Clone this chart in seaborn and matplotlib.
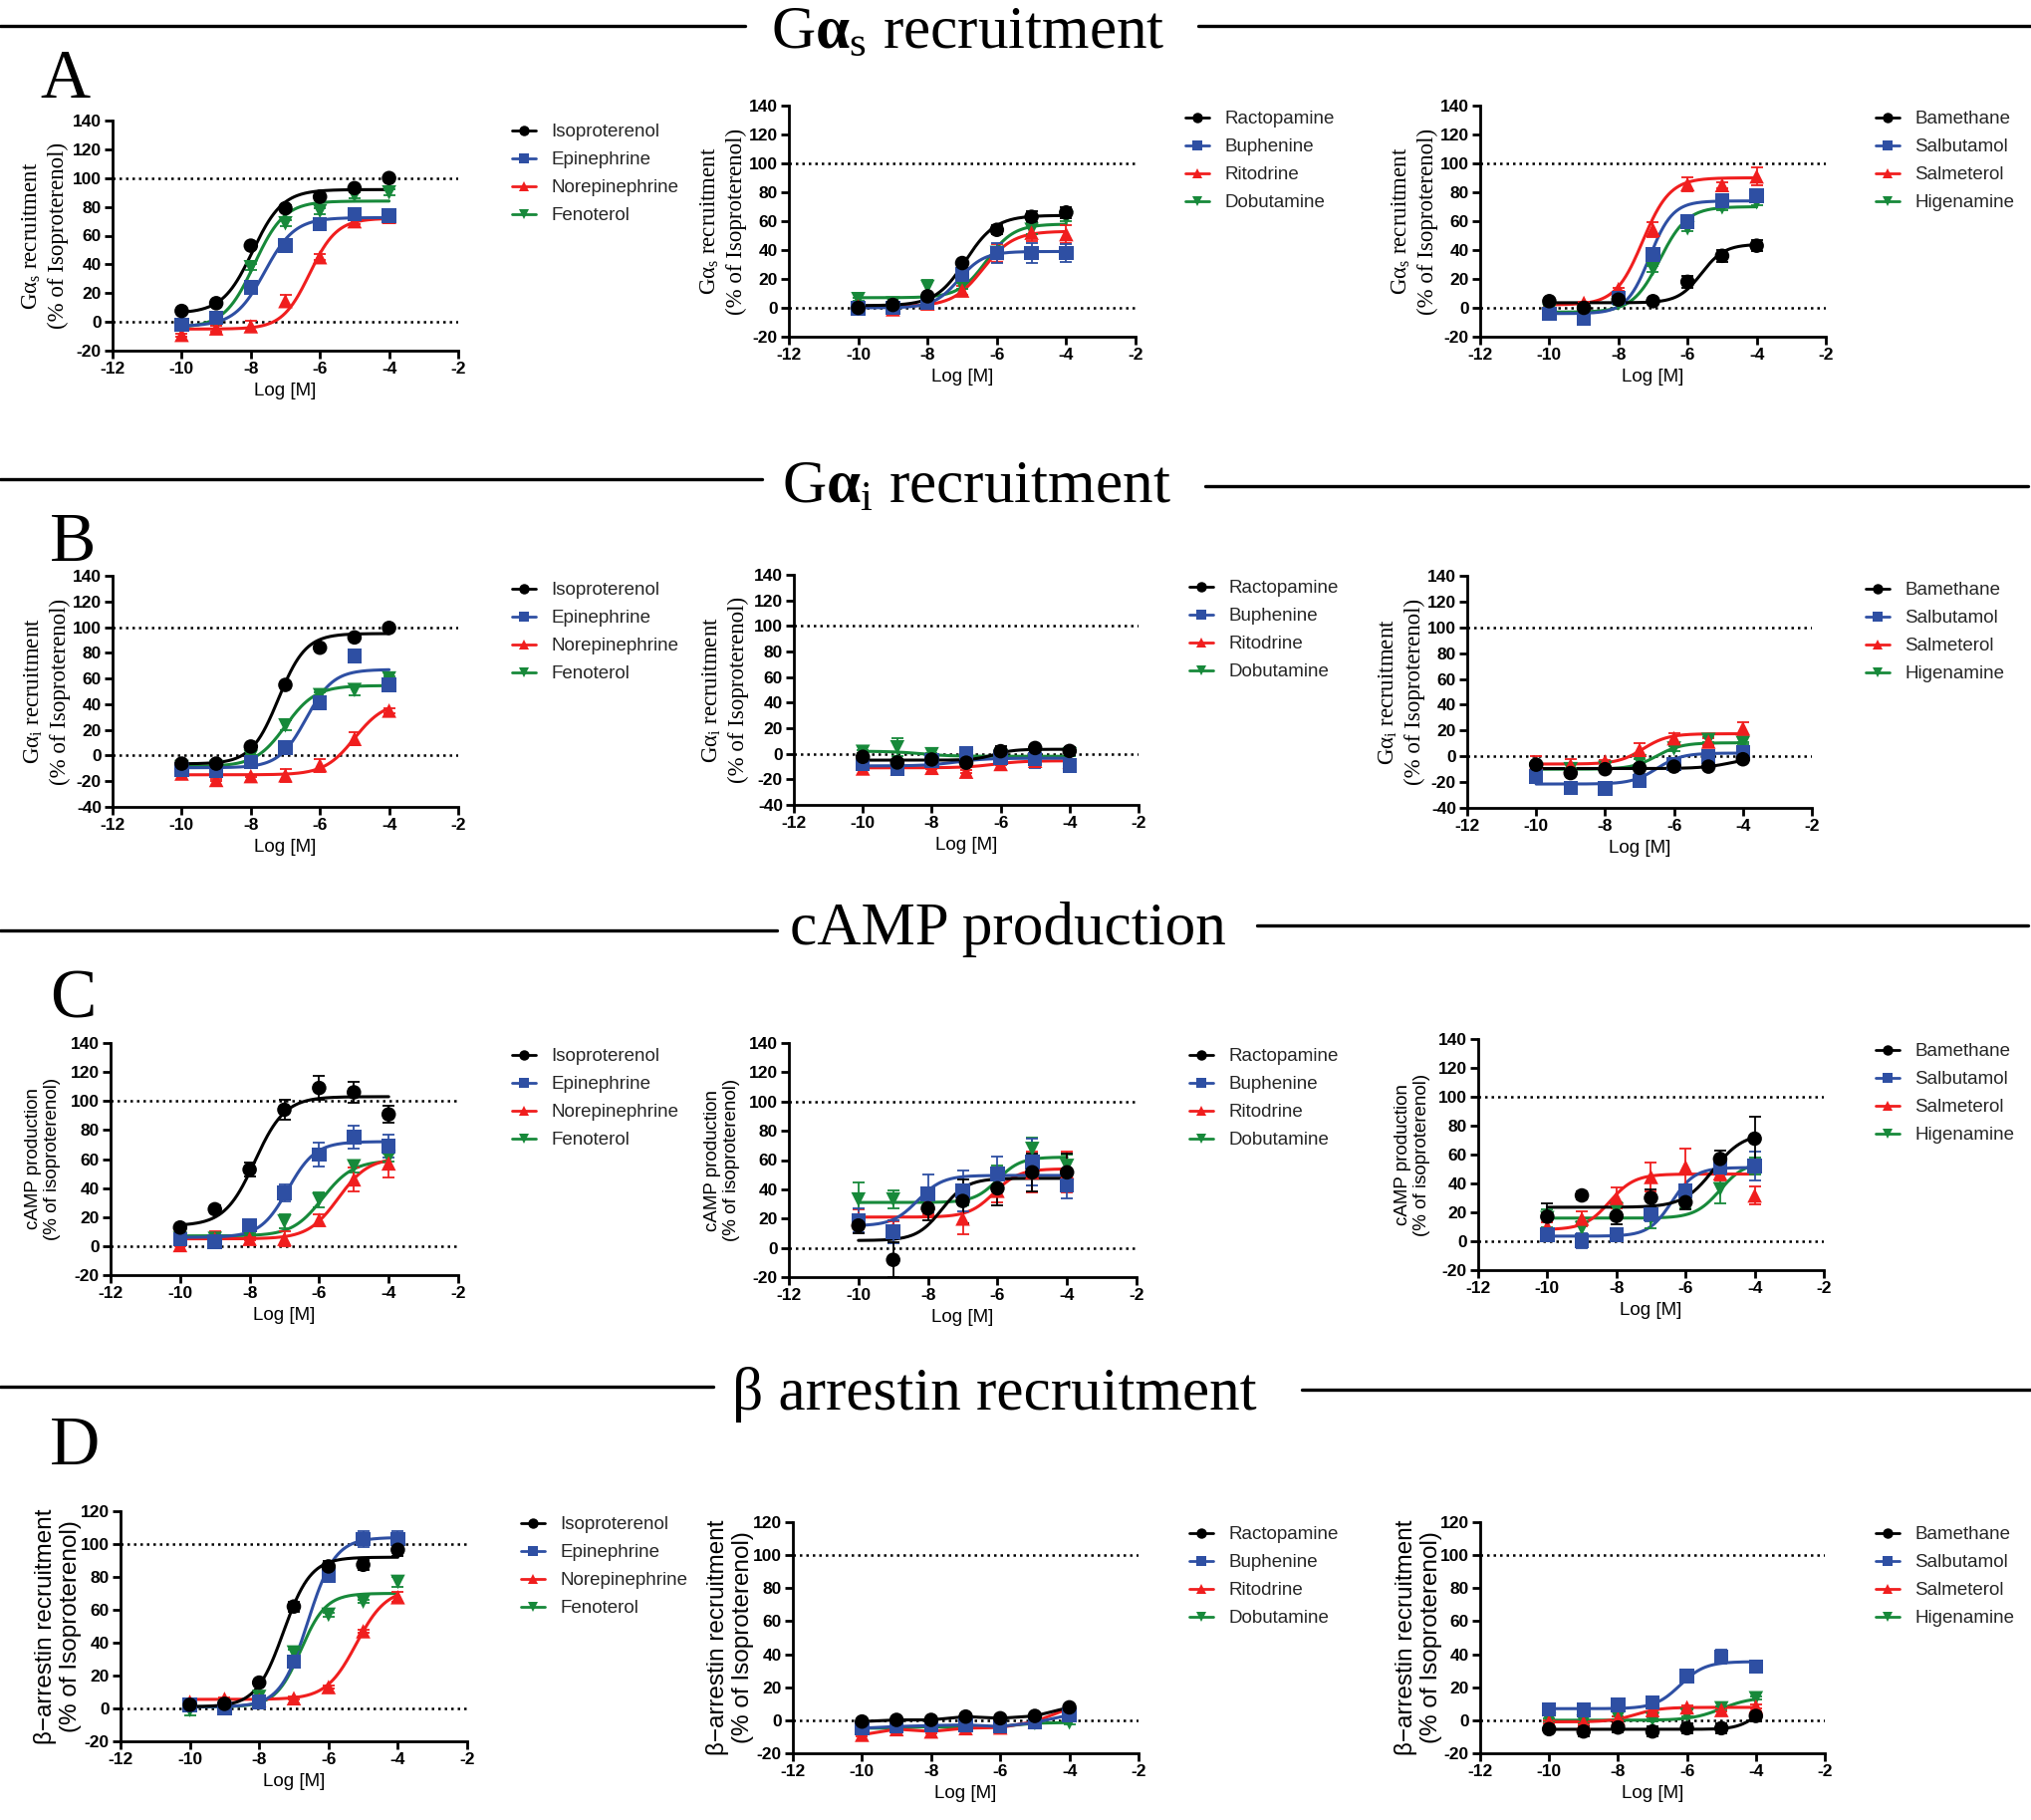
import numpy as np
import pandas as pd
import matplotlib
matplotlib.use("Agg")
import matplotlib.pyplot as plt
import seaborn as sns
from matplotlib.lines import Line2D

sns.set_theme(style="ticks")
plt.rcParams["font.family"] = ["Liberation Sans", "DejaVu Sans"]
plt.rcParams["mathtext.fontset"] = "custom"
plt.rcParams["mathtext.rm"] = "Liberation Serif"
plt.rcParams["mathtext.it"] = "Liberation Serif:italic"
plt.rcParams["mathtext.bf"] = "Liberation Serif:bold"
plt.rcParams["axes.unicode_minus"] = False

# ---------------- data ----------------
LOG_M = [-10, -9, -8, -7, -6, -5, -4]
DRUGS_1 = ["Isoproterenol", "Epinephrine", "Norepinephrine", "Fenoterol"]
DRUGS_2 = ["Ractopamine", "Buphenine", "Ritodrine", "Dobutamine"]
DRUGS_3 = ["Bamethane", "Salbutamol", "Salmeterol", "Higenamine"]
COLORS = ["#000000", "#2e4fa3", "#f01e1e", "#17893a"]
MARKERS = ["o", "s", "^", "v"]

# Row A: G alpha s recruitment
A1_VALS = [[7.6, 13, 53, 79, 87, 93, 100],
           [-2, 3, 24, 53, 68, 75, 74],
           [-9, -4.5, -3, 14.5, 45, 70, 73],
           [-3, -1, 38, 68.5, 77, 88, 90]]
A1_ERRS = [[1, 1, 2, 2, 2, 1, 1], [1, 1, 2, 2, 2, 2, 1],
           [1, 2, 4, 4, 2, 2, 2], [1, 1, 2, 2, 2, 2, 2]]
A1_FITS = [(6, 92, -7.95, 1.0), (-3, 72.5, -7.6, 1.0), (-5, 72, -6.3, 1.1), (-4, 84, -7.9, 1.0)]

A2_VALS = [[0, 2, 8, 31, 54, 63, 66],
           [-0.5, 0, 3.5, 23, 38, 38, 38],
           [1, -1, 3, 12, 38, 52, 51],
           [6, 3, 14.5, 15, 38, 54, 62]]
A2_ERRS = [[1, 1, 1, 2, 3, 4, 4], [1, 1, 1, 4, 7, 7, 6],
           [1, 3, 1, 3, 6, 6, 6], [1, 1, 5, 2, 3, 3, 2]]
A2_FITS = [(1.5, 64, -6.9, 1.0), (0, 39, -7.1, 1.2), (1, 53, -6.4, 1.0), (7, 58, -6.3, 1.1)]

A3_VALS = [[4.6, 0, 5.7, 4.6, 18, 36, 43],
           [-4, -7.6, 7, 37, 59.5, 74, 77.5],
           [0, 3.4, 13, 54, 85.5, 85, 91],
           [-2, -3, 3, 27, 55, 69.5, 73]]
A3_ERRS = [[1, 1, 1, 1, 4, 4, 4], [1, 2, 1, 4, 2, 2, 2],
           [1, 1, 1, 5, 5, 2, 6], [1, 1, 1, 2, 2, 2, 2]]
A3_FITS = [(3.5, 44, -5.6, 1.3), (-4, 74, -7.1, 1.3), (2, 90, -7.3, 1.1), (-3, 70, -6.8, 1.1)]

# Row B: G alpha i recruitment
B1_VALS = [[-6.3, -6.3, 7, 55, 84, 92, 99.4],
           [-11, -12, -5, 6, 41, 77.6, 55],
           [-14, -19, -16, -15.4, -7.6, 13, 35],
           [-9, -9, -1, 23.4, 47, 51, 60]]
B1_ERRS = [[1, 1, 1, 2, 2, 2, 1], [1, 1, 1, 1, 2, 2, 2],
           [2, 1, 1, 5, 5, 5, 2], [1, 1, 1, 4, 2, 4, 2]]
B1_FITS = [(-6.5, 95, -7.2, 1.1), (-9.5, 67, -6.4, 1.1), (-15, 42, -5.0, 1.0), (-8.5, 54.5, -7.0, 1.0)]

B2_VALS = [[-2.4, -6.8, -4.5, -7, 2, 4.5, 2.2],
           [-7.6, -11.5, -5.5, 0, -3, -4, -9],
           [-11.5, -11.5, -11, -14, -8, -5.5, -6.3],
           [1.5, 5, -0.4, -2, -2, -2, -0.5]]
B2_ERRS = [[1, 1, 1, 1, 4, 1, 3], [1, 2, 1, 5, 2, 7, 3],
           [1, 1, 1, 1, 1, 1, 7], [1, 7, 1, 7, 1, 1, 1]]
B2_FITS = [(-5, 3.5, -6.2, 1.5), (-9.5, -3.5, -7.3, 1.0), (-11, -5.5, -6.2, 1.0), (2, -2, -8.3, 1.0)]

B3_VALS = [[-6.5, -13, -10, -9, -8, -8, -2.3],
           [-15.5, -24.5, -24.8, -19, -6, 0, 3],
           [-5, -7, -4, 5, 14, 11.4, 21.7],
           [-10, -10, -9, -4, 6, 12.7, 10.3]]
B3_ERRS = [[1, 1, 1, 1, 1, 1, 1], [1, 1, 2, 5, 2, 1, 2],
           [5, 5, 1, 5, 4, 3, 5], [1, 1, 1, 2, 2, 2, 1]]
B3_FITS = [(-9.5, 0, -4.3, 1.0), (-21.5, 2.5, -6.5, 1.2), (-6, 17.5, -6.9, 1.2), (-10, 10.5, -6.5, 1.2)]

# Row C: cAMP production
C1_VALS = [[12.8, 25.4, 52.7, 94, 109, 106, 90.8],
           [4.6, 3, 14.4, 36.7, 63, 75, 69],
           [0.7, 5, 5, 5, 18, 46, 57],
           [5, 5, 8, 17, 32, 55, 61]]
C1_ERRS = [[1, 3, 5, 7, 8, 7, 6], [1, 1, 3, 6, 8, 8, 8],
           [1, 5, 1, 5, 4, 8, 10], [1, 1, 1, 5, 5, 4, 3]]
C1_FITS = [(14, 103, -7.85, 1.0), (6, 72, -6.9, 1.1), (5, 61, -5.45, 1.0), (7, 59, -5.9, 1.0)]

C2_VALS = [[15.2, -8.2, 27, 32, 40.7, 51.6, 51.6],
           [18.7, 11, 37, 39, 50.5, 58.5, 42.5],
           [20, 13, 31, 20, 39, 51.6, 51.6],
           [33, 33, 36, 35, 48, 67.6, 56]]
C2_ERRS = [[5, 12, 8, 15, 12, 13, 13], [8, 8, 13, 14, 12, 16, 9],
           [6, 5, 8, 11, 8, 14, 14], [12, 6, 5, 6, 8, 8, 8]]
C2_FITS = [(5, 47.5, -7.6, 1.2), (15, 49.5, -8.3, 1.2), (21, 54, -6.1, 1.2), (31, 62, -6.0, 1.3)]

C3_VALS = [[17, 31.7, 17.5, 30, 27, 57, 71],
           [4.4, 0.2, 4.4, 18.6, 35, 51, 52],
           [10, 15.6, 30, 44.5, 51.4, 47, 31.7],
           [16, 9, 22, 16, 26.6, 36, 52]]
C3_ERRS = [[9, 3, 6, 6, 5, 6, 15], [3, 5, 3, 5, 3, 5, 10],
           [3, 5, 7, 10, 13, 5, 6], [6, 5, 5, 7, 4, 10, 6]]
C3_FITS = [(23.5, 75, -5.2, 1.0), (3.5, 51, -6.4, 1.3), (8, 46.5, -8.2, 1.2), (16, 55, -5.0, 1.2)]

# Row D: beta arrestin recruitment
D1_VALS = [[2.2, 2.8, 15.7, 62, 86.4, 87.4, 96.5],
           [2, 0, 4, 28.4, 81, 103, 103],
           [4, 5.8, 5, 6.2, 13, 47, 67.7],
           [-1, 1, 7, 34, 57, 65, 77]]
D1_ERRS = [[1, 1, 1, 3, 3, 3, 4], [2, 1, 1, 3, 3, 5, 5],
           [1, 1, 1, 1, 1, 1, 3], [3, 1, 1, 2, 1, 1, 3]]
D1_FITS = [(1, 92, -7.3, 1.1), (1, 104, -6.6, 1.1), (5.5, 73, -5.2, 1.0), (1, 70, -6.8, 1.2)]

D2_VALS = [[-0.8, 0.2, 0.2, 2.2, 1.2, 2.6, 7.8],
           [-4.8, -3.8, -3.2, -2.8, -3.8, -1.4, 3.2],
           [-8.8, -5.4, -6.8, -4.8, -4.4, -0.8, 7.2],
           [-4.8, -4.8, -3.8, -4.8, -3.8, -1.8, -1.4]]
D2_ERRS = [[1, 1, 1, 1, 1, 1, 1], [1, 1, 1, 1, 1, 1, 1],
           [1, 1, 1, 1, 1, 1, 1], [1, 1, 1, 1, 1, 1, 1]]
D2_FITS = [None, None, None, None]

D3_VALS = [[-5.4, -6.8, -4.4, -6.8, -4.8, -4.8, 2.6],
           [6.6, 6.2, 9.3, 10.7, 26.8, 38.5, 32.4],
           [-0.8, -1.4, 1.2, 6.2, 7.8, 6.2, 8.3],
           [0.2, -1, 1.6, 0.6, 3.2, 7.2, 13.3]]
D3_ERRS = [[1, 3, 3, 3, 3, 3, 3], [1, 1, 1, 1, 1, 4, 1],
           [1, 1, 1, 1, 1, 1, 1], [1, 1, 1, 1, 1, 1, 1]]
D3_FITS = [(-5.5, 10, -4.0, 1.5), (7, 35.5, -6.2, 1.2), (-1, 7.8, -7.5, 1.2), (0, 14, -5.0, 1.0)]

YLAB_A = "G$\\mathrm{\\alpha}_{\\mathrm{s}}$ recruitment\n(% of Isoproterenol)"
YLAB_B = "G$\\mathrm{\\alpha}_{\\mathrm{i}}$ recruitment\n(% of Isoproterenol)"
YLAB_C = "cAMP production\n(% of isoproterenol)"
YLAB_D = "\u03b2\u2212arrestin recruitment\n(% of Isoproterenol)"

# ---------------- layout ----------------
W, H = 2040, 1827
fig = plt.figure(figsize=(W / 100, H / 100), dpi=100)


def rect(x0, y0, x1, y1):
    return [x0 / W, 1 - y1 / H, (x1 - x0) / W, (y1 - y0) / H]


def logistic(x, b, t, e, h):
    return b + (t - b) / (1 + 10 ** ((e - x) * h))


PANELS = [
    # box, names, vals, errs, fits, ylim, ylabel, serif, label_x, legend (x, y), ylabel size
    ((113, 121, 460, 352), DRUGS_1, A1_VALS, A1_ERRS, A1_FITS, (-20, 140), YLAB_A, True, -0.128, (514, 124), 16.5),
    ((792, 106, 1140, 338), DRUGS_2, A2_VALS, A2_ERRS, A2_FITS, (-20, 140), YLAB_A, True, -0.12, (1190, 111), 16.5),
    ((1486, 106, 1833, 338), DRUGS_3, A3_VALS, A3_ERRS, A3_FITS, (-20, 140), YLAB_A, True, -0.122, (1883, 111), 16.5),
    ((113, 578, 460, 810), DRUGS_1, B1_VALS, B1_ERRS, B1_FITS, (-40, 140), YLAB_B, True, -0.122, (514, 584), 16.5),
    ((797, 577, 1143, 808), DRUGS_2, B2_VALS, B2_ERRS, B2_FITS, (-40, 140), YLAB_B, True, -0.13, (1194, 582), 16.5),
    ((1473, 578, 1819, 811), DRUGS_3, B3_VALS, B3_ERRS, B3_FITS, (-40, 140), YLAB_B, True, -0.122, (1873, 584), 16.5),
    ((111, 1047, 460, 1280), DRUGS_1, C1_VALS, C1_ERRS, C1_FITS, (-20, 140), YLAB_C, False, -0.142, (514, 1052), 13.5),
    ((792, 1047, 1141, 1282), DRUGS_2, C2_VALS, C2_ERRS, C2_FITS, (-20, 140), YLAB_C, False, -0.14, (1194, 1052), 13.5),
    ((1484, 1043, 1831, 1275), DRUGS_3, C3_VALS, C3_ERRS, C3_FITS, (-20, 140), YLAB_C, False, -0.137, (1883, 1047), 13.5),
    ((121, 1517, 469, 1748), DRUGS_1, D1_VALS, D1_ERRS, D1_FITS, (-20, 120), YLAB_D, False, -0.112, (523, 1522), 17.5),
    ((796, 1528, 1143, 1760), DRUGS_2, D2_VALS, D2_ERRS, D2_FITS, (-20, 120), YLAB_D, False, -0.112, (1194, 1532), 17.5),
    ((1486, 1528, 1832, 1760), DRUGS_3, D3_VALS, D3_ERRS, D3_FITS, (-20, 120), YLAB_D, False, -0.11, (1883, 1532), 17.5),
]

for box, names, vals, errs, fits, ylim, ylab, serif, labx, leg, ylsize in PANELS:
    ax = fig.add_axes(rect(*box))
    pal = dict(zip(names, COLORS))
    mk = dict(zip(names, MARKERS))
    order = list(reversed(names))

    # reference lines
    ax.axhline(0, color="black", ls=(0, (1, 1.6)), lw=1.8, zorder=1)
    ax.axhline(100, color="black", ls=(0, (1, 1.6)), lw=1.8, zorder=1)

    # curves
    crows = []
    for n, v, f in zip(names, vals, fits):
        if f is None:
            crows += [(n, x, y) for x, y in zip(LOG_M, v)]
        else:
            xs = np.linspace(-10, -4, 161)
            crows += [(n, x, y) for x, y in zip(xs, logistic(xs, *f))]
    curves = pd.DataFrame(crows, columns=["drug", "logM", "resp"])
    sns.lineplot(data=curves, x="logM", y="resp", hue="drug", hue_order=order,
                 palette=pal, lw=2.2, legend=False, ax=ax, estimator=None,
                 sort=False, zorder=2)

    # error bars
    for i in reversed(range(4)):
        ax.errorbar(LOG_M, vals[i], yerr=errs[i], fmt="none", ecolor=COLORS[i],
                    elinewidth=1.3, capsize=4.5, capthick=1.3, zorder=3)

    # points
    prows = []
    for n in order:
        i = names.index(n)
        prows += [(n, x, y) for x, y in zip(LOG_M, vals[i])]
    pts = pd.DataFrame(prows, columns=["drug", "logM", "resp"])
    sns.scatterplot(data=pts, x="logM", y="resp", hue="drug", style="drug",
                    hue_order=order, style_order=order, palette=pal, markers=mk,
                    s=110, linewidth=0, legend=False, ax=ax, zorder=4)

    ax.set_xlim(-12, -2)
    ax.set_ylim(*ylim)
    ax.set_xticks(range(-12, -1, 2))
    ax.set_yticks(range(ylim[0], ylim[1] + 1, 20))
    sns.despine(ax=ax)
    for s in ["left", "bottom"]:
        ax.spines[s].set_linewidth(2.0)
        ax.spines[s].set_color("black")
    ax.tick_params(direction="out", length=6, width=2.0, labelsize=12.5, pad=2,
                   color="black", labelcolor="black")
    for lab in ax.get_xticklabels() + ax.get_yticklabels():
        lab.set_fontweight("bold")
    ax.set_xlabel("Log [M]", fontsize=13.5, labelpad=4, color="black")
    if serif:
        ax.set_ylabel(ylab, fontsize=ylsize, fontfamily="Liberation Serif",
                      linespacing=1.3, color="black")
    else:
        ax.set_ylabel(ylab, fontsize=ylsize, linespacing=1.2, color="black")
    ax.yaxis.set_label_coords(labx, 0.5)
    ax.grid(False)

    handles = [Line2D([0], [0], color=c, marker=m, markersize=7.5, lw=2.0,
                      markeredgewidth=0) for c, m in zip(COLORS, MARKERS)]
    fig.legend(handles, names, loc="upper left",
               bbox_to_anchor=(leg[0] / W, 1 - leg[1] / H),
               frameon=False, borderpad=0, borderaxespad=0, fontsize=13.5,
               handlelength=1.3, handletextpad=0.8, labelspacing=0.58)

# ---------------- section titles, rules, panel letters ----------------
TITLES = [
    ("G$\\mathbf{\\alpha}_{\\mathrm{s}}$ recruitment", 972, 48, (0, 748, 26), (1203, 2040, 26)),
    ("G$\\mathbf{\\alpha}_{\\mathrm{i}}$ recruitment", 980, 505, (0, 765, 481), (1210, 2036, 488)),
    ("cAMP production", 1012, 948, (0, 780, 934), (1262, 2036, 929)),
    ("\u03b2 arrestin recruitment", 998, 1415, (0, 716, 1392), (1307, 2040, 1395)),
]
for text, cx, by, l1, l2 in TITLES:
    fig.text(cx / W, 1 - by / H, text, ha="center", va="baseline", fontsize=44,
             fontfamily="Liberation Serif", color="black")
    for x0, x1, yy in (l1, l2):
        fig.add_artist(Line2D([x0 / W, x1 / W], [1 - yy / H, 1 - yy / H],
                              color="black", lw=2.4, transform=fig.transFigure))

LETTERS = [("A", 65, 98), ("B", 73, 563), ("C", 73, 1021), ("D", 75, 1470)]
for t, x, y in LETTERS:
    fig.text(x / W, 1 - y / H, t, ha="center", va="baseline", fontsize=50,
             fontfamily="Liberation Serif", color="black")

fig.savefig("out.png", dpi=100, facecolor="white")
